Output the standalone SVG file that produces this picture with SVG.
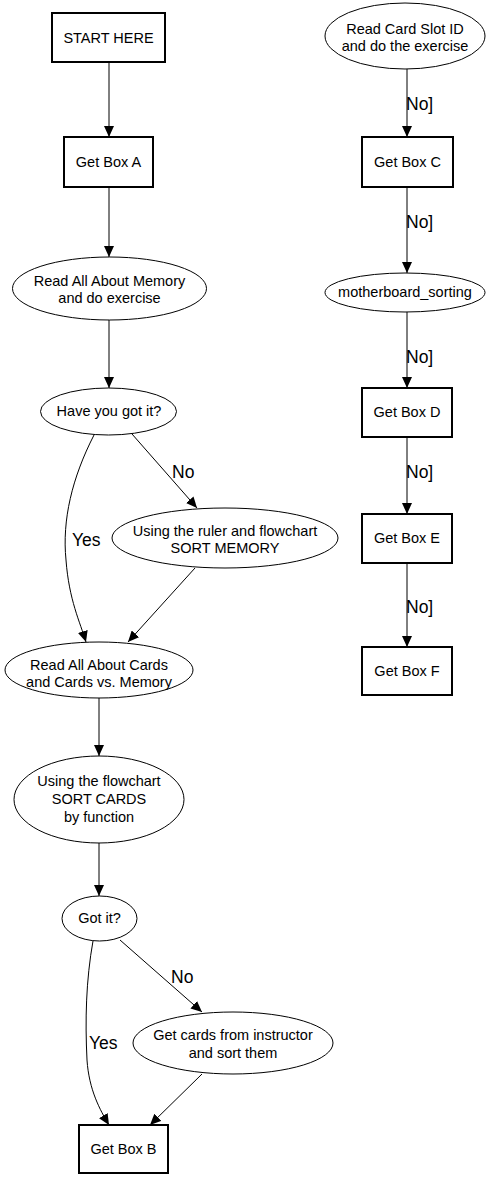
<svg xmlns="http://www.w3.org/2000/svg" width="496" height="1179" viewBox="0 0 496 1179">
<style>
.box{fill:#fff;stroke:#000;stroke-width:2}
.ell{fill:#fff;stroke:#000;stroke-width:1}
.t{font-family:"Liberation Sans",Arial,sans-serif;font-size:14.5px;text-anchor:middle;fill:#000}
.lbl{font-family:"Liberation Sans",Arial,sans-serif;font-size:17.5px;fill:#000}
.e{fill:none;stroke:#000;stroke-width:1;marker-end:url(#ah)}
</style>
<defs>
<marker id="ah" markerUnits="userSpaceOnUse" markerWidth="11" markerHeight="10" refX="11" refY="5" orient="auto" viewBox="0 0 11 10">
<path d="M0,0 L11,5 L0,10 z" fill="#000"/>
</marker>
</defs>
<rect width="496" height="1179" fill="#fff"/>
<g id="connectors">
<path class="e" d="M109,62 L109,137"/>
<path class="e" d="M109,187 L109,257"/>
<path class="e" d="M109,320 L109,388"/>
<path class="e" d="M94,435 C72,478 62,520 66,560 C69,600 80,622 86,642"/>
<path class="e" d="M132,434 L197,508"/>
<path class="e" d="M195,568 L128,642"/>
<path class="e" d="M99,698 L99,756"/>
<path class="e" d="M99,843 L99,896"/>
<path class="e" d="M93,941 C86,980 85,1020 87,1060 C89,1090 100,1110 109,1125"/>
<path class="e" d="M120,940 L202,1012"/>
<path class="e" d="M202,1074 L150,1125"/>
<path class="e" d="M407,69 L407,137"/>
<path class="e" d="M407,187 L407,273"/>
<path class="e" d="M407,312 L407,388"/>
<path class="e" d="M407,437 L407,514"/>
<path class="e" d="M407,563 L407,647"/>
<text class="lbl" x="72" y="546">Yes</text>
<text class="lbl" x="172" y="478">No</text>
<text class="lbl" x="89" y="1049">Yes</text>
<text class="lbl" x="171" y="983">No</text>
<text class="lbl" x="406" y="110">No]</text>
<text class="lbl" x="406" y="228">No]</text>
<text class="lbl" x="406" y="363">No]</text>
<text class="lbl" x="406" y="478">No]</text>
<text class="lbl" x="406" y="613">No]</text>
</g>
<g id="start"><rect class="box" x="52" y="13" width="113" height="49"/><text class="t" x="108.5" y="43">START HERE</text></g>
<g id="boxA"><rect class="box" x="64" y="137" width="89" height="50"/><text class="t" x="108.5" y="167">Get Box A</text></g>
<g id="memory"><ellipse class="ell" cx="109.5" cy="288.5" rx="97" ry="31.5"/><text class="t" x="109.5" y="286">Read All About Memory</text><text class="t" x="109.5" y="303">and do exercise</text></g>
<g id="gotit1"><ellipse class="ell" cx="108.5" cy="411.5" rx="68" ry="23.5"/><text class="t" x="109" y="416">Have you got it?</text></g>
<g id="sortmem"><ellipse class="ell" cx="225" cy="538" rx="113" ry="30"/><text class="t" x="225" y="536">Using the ruler and flowchart</text><text class="t" x="225" y="553">SORT MEMORY</text></g>
<g id="cards"><ellipse class="ell" cx="99" cy="670" rx="94" ry="28"/><text class="t" x="99" y="670">Read All About Cards</text><text class="t" x="99" y="687">and Cards vs. Memory</text></g>
<g id="sortcards"><ellipse class="ell" cx="99" cy="799.5" rx="85" ry="43.5"/><text class="t" x="99" y="786">Using the flowchart</text><text class="t" x="99" y="804">SORT CARDS</text><text class="t" x="99" y="822">by function</text></g>
<g id="gotit2"><ellipse class="ell" cx="99.5" cy="918.5" rx="37.5" ry="22.5"/><text class="t" x="99.5" y="923">Got it?</text></g>
<g id="instructor"><ellipse class="ell" cx="233" cy="1043" rx="100" ry="31"/><text class="t" x="233" y="1040">Get cards from instructor</text><text class="t" x="233" y="1058">and sort them</text></g>
<g id="boxB"><rect class="box" x="79" y="1125" width="89" height="48"/><text class="t" x="123.5" y="1154">Get Box B</text></g>
<g id="slot"><ellipse class="ell" cx="405" cy="36" rx="80" ry="33"/><text class="t" x="405" y="34">Read Card Slot ID</text><text class="t" x="405" y="51">and do the exercise</text></g>
<g id="boxC"><rect class="box" x="362" y="137" width="91" height="50"/><text class="t" x="407.5" y="167">Get Box C</text></g>
<g id="mobo"><ellipse class="ell" cx="405" cy="292.5" rx="80" ry="19.5"/><text class="t" x="405" y="297">motherboard_sorting</text></g>
<g id="boxD"><rect class="box" x="362" y="388" width="90" height="49"/><text class="t" x="407" y="417">Get Box D</text></g>
<g id="boxE"><rect class="box" x="362" y="514" width="90" height="49"/><text class="t" x="407" y="543">Get Box E</text></g>
<g id="boxF"><rect class="box" x="362" y="647" width="90" height="48"/><text class="t" x="407" y="676">Get Box F</text></g>
</svg>
